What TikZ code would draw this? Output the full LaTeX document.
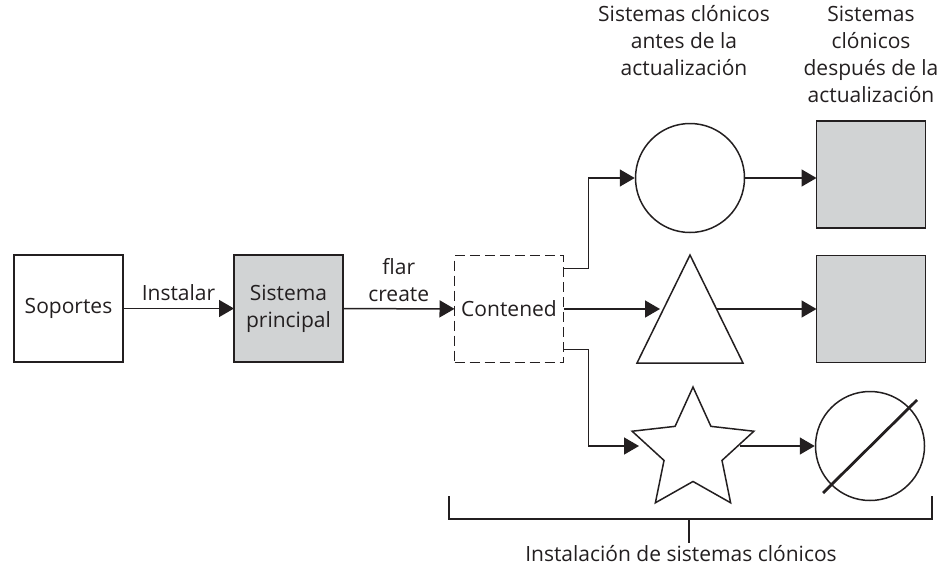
\documentclass[tikz,border=0pt]{standalone}
\usepackage{fontspec}
\setmainfont{Open Sans}
\usetikzlibrary{arrows.meta,shapes.geometric,calc}
\definecolor{boxgray}{HTML}{D1D3D4}
\definecolor{ink}{HTML}{231F20}
\begin{document}
\begin{tikzpicture}[x=1pt,y=-1pt,line width=1.5pt,draw=ink,text=ink,
  font=\fontsize{21}{27}\selectfont,
  sqbox/.style={draw,minimum width=109pt,minimum height=107pt,inner sep=0pt,outer sep=0pt,align=center},
  graybox/.style={sqbox,fill=boxgray},
  arr/.style={-{Triangle[length=15pt,width=17pt]}},
  lbl/.style={align=center,inner sep=0pt}]
\useasboundingbox (0,0) rectangle (941,570);

% main chain
\node[sqbox] (sop) at (68.5,308.5) {Soportes};
\node[graybox] (sp) at (288.5,308.5) {Sistema\\principal};
\node[sqbox,dashed,dash pattern=on 10pt off 5pt] (cont) at (509,309) {Contened};

\draw[arr] (sop) -- node[lbl,above=7pt] {Instalar} (sp);
\draw[arr] (sp) -- node[lbl,above=6pt] {flar\\create} (cont);

% top row
\node[draw,circle,minimum size=109pt,inner sep=0pt] (c1) at (690,178) {};
\node[graybox] (s1) at (871,174.5) {};
\draw[arr] ([yshift=-13pt]cont.north east) -- ++(25,0) |- (c1.west);
\draw[arr] (c1.east) -- (c1.east -| s1.west);

% middle row
\coordinate (tA) at (690,255);
\coordinate (tR) at (743,363);
\coordinate (tL) at (637,363);
\draw (tA) -- (tR) -- (tL) -- cycle;
\coordinate (tin) at (660,309);
\coordinate (tout) at (716,309);
\node[graybox] (s2) at (871,309) {};
\draw[arr] (cont.east) -- (tin);
\draw[arr] (tout) -- (s2.west);

% bottom row
\node[draw,star,star points=5,star point ratio=2.1,minimum size=128pt,inner sep=0pt] (star) at (693,451) {};
\coordinate (sin) at (639,446);
\coordinate (sout) at (740,446);
\node[draw,circle,minimum size=109pt,inner sep=0pt] (c3) at (870,446) {};
\draw[line width=2.8pt] ($(c3)+(-47,47)$) -- ($(c3)+(47,-46)$);
\draw[arr] ([yshift=13pt]cont.south east) -- ++(25,0) |- (sin);
\draw[arr] (sout) -- (c3.west);

% headers
\node[lbl,anchor=north] (h1) at (684,5) {Sistemas clónicos\\antes de la\\actualización};
\node[lbl,anchor=north] (h2) at (871,5) {Sistemas\\clónicos\\después de la\\actualización};

% bracket
\coordinate (bL) at (449,496);
\coordinate (bR) at (932,496);
\coordinate (bM) at (689,519);
\draw (bL) -- (449,519) -- (932,519) -- (bR);
\draw (bM) -- ++(0,24) coordinate (bS);
\node[lbl,anchor=north] (inst) at ($(bS)+(-8,2)$) {Instalación de sistemas clónicos};
\end{tikzpicture}
\end{document}
